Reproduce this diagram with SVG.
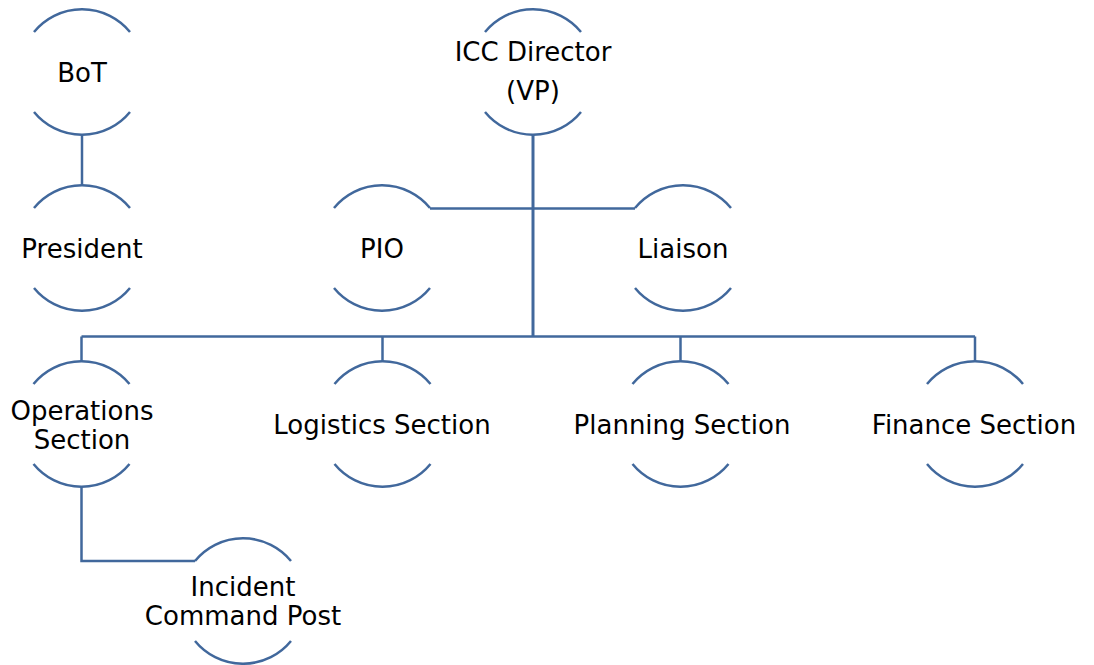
<svg xmlns="http://www.w3.org/2000/svg" xmlns:xlink="http://www.w3.org/1999/xlink" width="1094" height="665" viewBox="0 0 1094 665">
<style>
.arc{fill:none;stroke:#41689c;stroke-width:2.5}
.con{fill:none;stroke:#41689c;stroke-width:2.5}
.con-main{stroke-width:3}
.lbl{font-family:"DejaVu Sans","Verdana",sans-serif;font-size:26px;fill:#000;text-anchor:middle}
</style>
<defs>
<path id="arcs" class="arc" d="M-48,-40 A62,62 0 0 1 48,-40 M-48,40 A62,62 0 0 0 48,40"/>
</defs>
<rect width="1094" height="665" fill="#fff"/>
<g id="connectors">
<path class="con" d="M82,134 V186"/>
<path class="con con-main" d="M533,134 V337"/>
<path class="con" d="M430,208.5 H635"/>
<path class="con" d="M81.5,336.5 H975"/>
<path class="con" d="M81.5,336.5 V362"/>
<path class="con" d="M382.5,336.5 V362"/>
<path class="con" d="M680.5,336.5 V362"/>
<path class="con" d="M975,336.5 V362"/>
<path class="con" d="M81.5,486 V561 H195"/>
</g>
<g id="node-bot"><use xlink:href="#arcs" transform="translate(82,72)"/><text class="lbl" x="82" y="81.5">BoT</text></g>
<g id="node-president"><use xlink:href="#arcs" transform="translate(82,248)"/><text class="lbl" x="82" y="258">President</text></g>
<g id="node-icc-director"><use xlink:href="#arcs" transform="translate(533,72)"/><text class="lbl" x="533" y="61">ICC Director</text><text class="lbl" x="533" y="100">(VP)</text></g>
<g id="node-pio"><use xlink:href="#arcs" transform="translate(382,248)"/><text class="lbl" x="382" y="258">PIO</text></g>
<g id="node-liaison"><use xlink:href="#arcs" transform="translate(683,248)"/><text class="lbl" x="683" y="258">Liaison</text></g>
<g id="node-operations"><use xlink:href="#arcs" transform="translate(81.5,424)"/><text class="lbl" x="82" y="420">Operations</text><text class="lbl" x="82" y="449">Section</text></g>
<g id="node-logistics"><use xlink:href="#arcs" transform="translate(382.5,424)"/><text class="lbl" x="382" y="433.5">Logistics Section</text></g>
<g id="node-planning"><use xlink:href="#arcs" transform="translate(680.5,424)"/><text class="lbl" x="682" y="433.5">Planning Section</text></g>
<g id="node-finance"><use xlink:href="#arcs" transform="translate(975,424)"/><text class="lbl" x="974" y="433.5">Finance Section</text></g>
<g id="node-icp"><use xlink:href="#arcs" transform="translate(243,601)"/><text class="lbl" x="243" y="596">Incident</text><text class="lbl" x="243" y="625">Command Post</text></g>
</svg>
